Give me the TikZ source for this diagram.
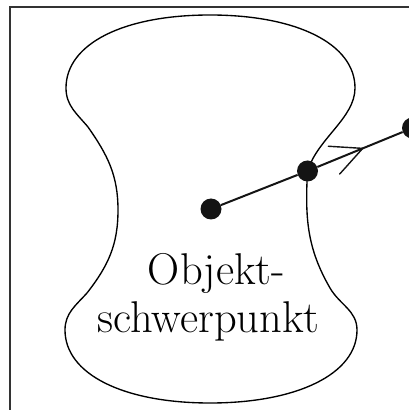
\documentclass[tikz,border=0pt]{standalone}
\usepackage{fontspec}
\usetikzlibrary{arrows.meta,decorations.markings}
\tikzset{
  outline/.style={line width=1.35pt, black},
  frameline/.style={line width=1.1pt, black!80},
  dotnode/.style={circle, fill=black!92, inner sep=0pt, minimum size=21pt},
  conn/.style={line width=2pt, black!92},
  midarrow/.style={postaction={decorate, decoration={markings,
      mark=at position #1 with {\arrow[line width=1.4pt]{Straight Barb[length=31pt,width=30pt,round]}}}}},
  lbl/.style={inner sep=0pt, anchor=base, font=\fontsize{44.5}{53}\selectfont}
}
\begin{document}
\begin{tikzpicture}[x=1pt,y=1pt]
\useasboundingbox (0,0) rectangle (409,410);
% frame (only left and top edges visible)
\draw[frameline] (10,-5) -- (10,403) -- (420,403);
% object outline
\draw[outline] (210,395) .. controls (297,395) and (355,366) .. (355,322)
  .. controls (355,292) and (318,272) .. (307.5,239)
  to[out=-93,in=120] (330,122)
  to[out=-60,in=90] (357,80)
  .. controls (357,36) and (297,7) .. (210,7)
  .. controls (123,7) and (65,36) .. (65,80)
  to[out=90,in=228] (87,117)
  to[out=52,in=-90] (118,200)
  to[out=90,in=-55] (88,283)
  to[out=130,in=-90] (66,322)
  .. controls (66,366) and (123,395) .. (210,395) -- cycle;
% points
\node[dotnode] (c) at (211,201) {};
\node[dotnode] (m) at (307.5,239) {};
\node[dotnode] (r) at (412.5,282) {};
\draw[conn] (c) -- (m);
\draw[conn, midarrow=0.54] (m) -- (r);
% label
\node[lbl] (l1) at (216.5,125) {Objekt-};
\node[lbl] (l2) at (208.5,77) {schwerpunkt};
\end{tikzpicture}
\end{document}
